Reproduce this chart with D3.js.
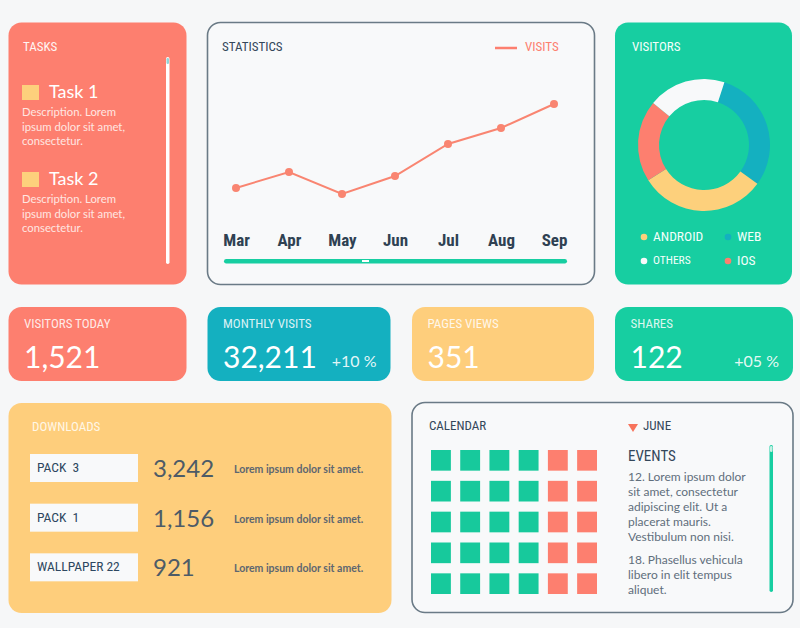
<!DOCTYPE html>
<html>
<head>
<meta charset="utf-8">
<script src="https://cdn.jsdelivr.net/npm/d3@7"></script>
<style>
  html, body { margin: 0; padding: 0; background: #f6f7f8; }
  svg { display: block; }
  .cond { font-family: "Liberation Sans Narrow", "Roboto Condensed", "Roboto", sans-serif; }
  .lato { font-family: "Lato", "Open Sans", sans-serif; }
</style>
</head>
<body>
<svg id="chart" width="800" height="628"></svg>
<script>
// ---------------- DATA ----------------
const months = ["Mar", "Apr", "May", "Jun", "Jul", "Aug", "Sep"];
const visits = [36, 44, 33, 42, 58, 66, 78];

const visitorLabels = ["WEB", "ANDROID", "IOS", "OTHERS"];
const visitorValues = [30, 31, 20, 19];

const statTitles = ["VISITORS TODAY", "MONTHLY VISITS", "PAGES VIEWS", "SHARES"];
const statValues = ["1,521", "32,211", "351", "122"];
const statChanges = ["", "+10 %", "", "+05 %"];

const taskTitles = ["Task 1", "Task 2"];
const taskDescriptions = [
  ["Description. Lorem", "ipsum dolor sit amet,", "consectetur."],
  ["Description. Lorem", "ipsum dolor sit amet,", "consectetur."]
];

const downloadNames = ["PACK  3", "PACK  1", "WALLPAPER 22"];
const downloadCounts = ["3,242", "1,156", "921"];
const downloadNotes = ["Lorem ipsum dolor sit amet.", "Lorem ipsum dolor sit amet.", "Lorem ipsum dolor sit amet."];

const calendarCols = ["Mon", "Tue", "Wed", "Thu", "Fri", "Sat"];
const calendarWeeks = ["W1", "W2", "W3", "W4", "W5"];
const weekendDays = ["Fri", "Sat"];

const eventLines = [
  ["12. Lorem ipsum dolor", "sit amet, consectetur", "adipiscing elit. Ut a", "placerat mauris.", "Vestibulum non nisi."],
  ["18. Phasellus vehicula", "libero in elit tempus", "aliquet."]
];

// ---------------- COLOURS ----------------
const C = {
  salmon: "#fd7f6f",
  teal: "#14b0c0",
  yellow: "#fece7c",
  green: "#17cea1",
  white: "#f8f9fa",
  dark: "#34475a",
  border: "#6a7a86",
  gray: "#55626d"
};

const svg = d3.select("#chart");

function panel(x, y, w, h, fill, stroke) {
  svg.append("rect")
    .attr("x", x).attr("y", y).attr("width", w).attr("height", h)
    .attr("rx", 13).attr("ry", 13)
    .attr("fill", fill)
    .attr("stroke", stroke || "none")
    .attr("stroke-width", stroke ? 1.6 : 0);
}

function heading(x, y, txt, color, size) {
  svg.append("text").attr("class", "cond")
    .attr("x", x).attr("y", y)
    .attr("dominant-baseline", "middle")
    .attr("font-size", size || 13)
    .attr("fill", color)
    .text(txt);
}

// ---------------- TASKS ----------------
panel(8.5, 22.5, 178, 262, C.salmon);
heading(23, 48, "TASKS", "#fff5f3", 13);
svg.append("rect").attr("x", 166).attr("y", 57).attr("width", 3.5).attr("height", 207).attr("rx", 1.7).attr("fill", "#ffffff");
svg.append("rect").attr("x", 166.5).attr("y", 58).attr("width", 2.5).attr("height", 6).attr("rx", 1.2).attr("fill", "#8fd6d8");

const taskY = d3.scaleBand().domain(taskTitles).range([84, 258]).paddingInner(0);
taskTitles.forEach((t, i) => {
  const y0 = taskY(t);
  svg.append("rect").attr("x", 22).attr("y", y0 + 1).attr("width", 17).attr("height", 15).attr("fill", "#fdd07c");
  svg.append("text").attr("class", "lato").attr("x", 49).attr("y", y0 + 14)
    .attr("font-size", 18).attr("fill", "#ffffff").text(t);
  taskDescriptions[i].forEach((line, j) => {
    svg.append("text").attr("class", "lato").attr("x", 22).attr("y", y0 + 32 + j * 14.5)
      .attr("font-size", 11.3).attr("fill", "#ffe6e1").text(line);
  });
});

// ---------------- STATISTICS ----------------
panel(207.5, 22.5, 387, 262, "#f8f9fa", C.border);
heading(222, 48, "STATISTICS", C.dark, 13);
svg.append("line").attr("x1", 495).attr("x2", 517).attr("y1", 48).attr("y2", 48)
  .attr("stroke", C.salmon).attr("stroke-width", 2.5);
heading(525, 48, "VISITS", C.salmon, 13);

const xs = d3.scalePoint().domain(months).range([236, 554]);
const ys = d3.scaleLinear().domain([0, 100]).range([260, 60]);

const line = d3.line().x((d, i) => xs(months[i])).y(d => ys(d));
svg.append("path").datum(visits).attr("d", line)
  .attr("fill", "none").attr("stroke", "#f98571").attr("stroke-width", 2);
svg.selectAll("circle.pt").data(visits).enter().append("circle").attr("class", "pt")
  .attr("cx", (d, i) => xs(months[i])).attr("cy", d => ys(d)).attr("r", 4)
  .attr("fill", "#f98571");

const xAxis = svg.append("g").attr("transform", "translate(0,232)")
  .call(d3.axisBottom(xs).tickSize(0).tickPadding(0));
xAxis.select(".domain").remove();
xAxis.selectAll("text").attr("class", "cond")
  .attr("font-size", 17).attr("font-weight", "bold").attr("fill", "#2f4152")
  .attr("dy", "0.8em").style("font-family", "'Liberation Sans Narrow', 'Roboto Condensed', sans-serif");

svg.append("rect").attr("x", 224).attr("y", 259).attr("width", 343).attr("height", 4.5).attr("rx", 2.2).attr("fill", C.green);
svg.append("rect").attr("x", 362).attr("y", 260).attr("width", 7).attr("height", 2).attr("fill", "#ffffff");

// ---------------- VISITORS DONUT ----------------
panel(615, 22.5, 177, 262, C.green);
heading(632, 48, "VISITORS", "#f4fffb", 13);

const donutColors = d3.scaleOrdinal().domain(visitorLabels).range([C.teal, "#fdd07c", C.salmon, "#f8f9fa"]);
const startA = 18 * Math.PI / 180;
const pie = d3.pie().sort(null).startAngle(startA).endAngle(startA + 2 * Math.PI);
const arc = d3.arc().innerRadius(45).outerRadius(66);
svg.append("g").attr("transform", "translate(704,145)")
  .selectAll("path").data(pie(visitorValues)).enter().append("path")
  .attr("d", arc).attr("fill", (d, i) => donutColors(visitorLabels[i]));

const legendOrder = ["ANDROID", "WEB", "OTHERS", "IOS"];
legendOrder.forEach((lab, i) => {
  const lx = (i % 2 === 0) ? 644 : 728;
  const ly = (i < 2) ? 237 : 261;
  svg.append("circle").attr("cx", lx).attr("cy", ly).attr("r", 3.3).attr("fill", donutColors(lab));
  svg.append("text").attr("class", "cond").attr("x", lx + 9).attr("y", ly)
    .attr("dominant-baseline", "middle")
    .attr("font-size", lab === "OTHERS" ? 11.5 : 13.5).attr("fill", "#f4fffb").text(lab);
});

// ---------------- STAT CARDS ----------------
const cardX = [8.5, 207.5, 412, 615];
const cardW = [178, 183, 182, 178];
const cardFill = [C.salmon, C.teal, C.yellow, C.green];
statTitles.forEach((t, i) => {
  panel(cardX[i], 307, cardW[i], 74, cardFill[i]);
  svg.append("text").attr("class", "cond").attr("x", cardX[i] + 15.5).attr("y", 325)
    .attr("dominant-baseline", "middle").attr("font-size", 13).attr("fill", "#ffffff").attr("fill-opacity", 0.85)
    .text(t);
  svg.append("text").attr("class", "lato").attr("x", cardX[i] + 15.5).attr("y", 368)
    .attr("font-size", 30).attr("fill", "#ffffff").text(statValues[i]);
  if (statChanges[i]) {
    svg.append("text").attr("class", "lato").attr("x", cardX[i] + cardW[i] - 14).attr("y", 367)
      .attr("text-anchor", "end").attr("font-size", 16).attr("fill", "#ffffff").attr("fill-opacity", 0.9)
      .text(statChanges[i]);
  }
});

// ---------------- DOWNLOADS ----------------
panel(8.5, 403, 383, 210, C.yellow);
heading(32, 428, "DOWNLOADS", "#fff7e6", 13);
const rowY = d3.scaleBand().domain(downloadNames).range([454, 603]).paddingInner(0);
downloadNames.forEach((n, i) => {
  const y0 = rowY(n);
  svg.append("rect").attr("x", 30).attr("y", y0).attr("width", 108).attr("height", 28).attr("fill", "#f8f9fa");
  svg.append("text").attr("class", "cond").attr("x", 37).attr("y", y0 + 14.5)
    .attr("dominant-baseline", "middle").attr("font-size", 13.5).attr("fill", "#2d4760")
    .attr("xml:space", "preserve").style("white-space", "pre").text(n);
  svg.append("text").attr("class", "lato").attr("x", 153).attr("y", y0 + 23)
    .attr("font-size", 24).attr("fill", "#4d5b67").text(downloadCounts[i]);
  svg.append("text").attr("class", "lato").attr("x", 234).attr("y", y0 + 19)
    .attr("font-size", 10.5).attr("font-weight", "bold").attr("fill", "#5d6670").text(downloadNotes[i]);
});

// ---------------- CALENDAR ----------------
panel(412, 402.5, 381, 210, "#f8f9fa", C.border);
heading(429, 427, "CALENDAR", C.dark, 13);
const cx = d3.scaleBand().domain(calendarCols).range([431, 597]).paddingInner(0.32);
const cy = d3.scaleBand().domain(calendarWeeks).range([450, 594]).paddingInner(0.33);
calendarWeeks.forEach(w => {
  calendarCols.forEach(c => {
    svg.append("rect").attr("x", cx(c)).attr("y", cy(w))
      .attr("width", cx.bandwidth()).attr("height", cy.bandwidth())
      .attr("fill", weekendDays.includes(c) ? C.salmon : "#17c99c");
  });
});

svg.append("path").attr("d", "M628,424 L638,424 L633,432 Z").attr("fill", "#f7735c");
heading(643, 427, "JUNE", C.dark, 13);
heading(628, 457, "EVENTS", C.dark, 15);
let ey = 478;
eventLines.forEach((block, b) => {
  block.forEach(l => {
    svg.append("text").attr("class", "lato").attr("x", 628).attr("y", ey)
      .attr("dominant-baseline", "middle").attr("font-size", 12).attr("fill", "#5f6e7c").text(l);
    ey += 15;
  });
  ey += 8;
});
svg.append("rect").attr("x", 769.5).attr("y", 445).attr("width", 3.5).attr("height", 147).attr("rx", 1.7).attr("fill", C.green);
svg.append("rect").attr("x", 770).attr("y", 446).attr("width", 2.5).attr("height", 6).attr("rx", 1.2).attr("fill", "#c8efe4");
</script>
</body>
</html>
